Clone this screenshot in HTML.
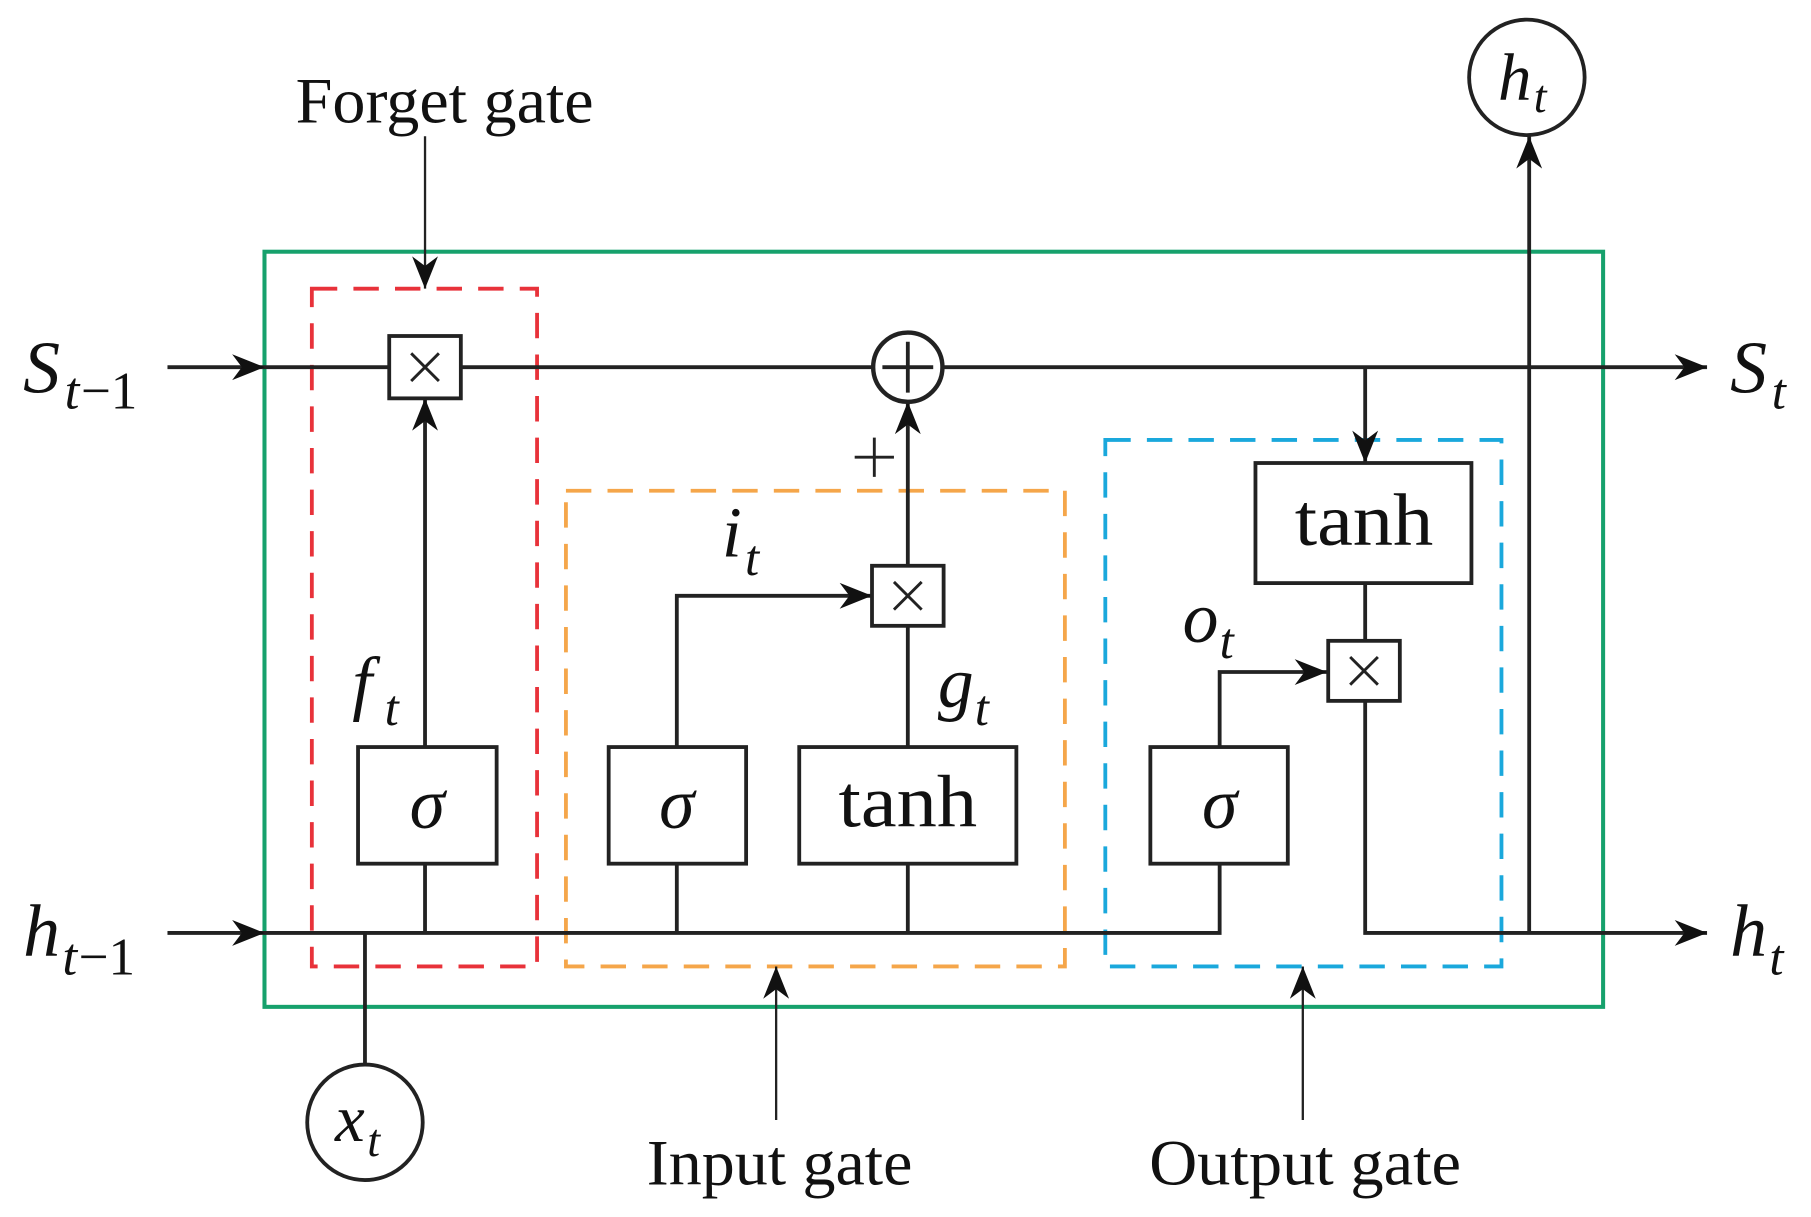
<!DOCTYPE html>
<html><head><meta charset="utf-8"><style>
html,body{margin:0;padding:0;background:#fff;}
svg{display:block;}
text{font-family:"Liberation Serif",serif;fill:#111;}
.v{font-style:italic;}
</style></head><body>
<svg width="1811" height="1217" viewBox="0 0 1568 1054" preserveAspectRatio="none" xmlns="http://www.w3.org/2000/svg">
<defs>
<marker id="b" viewBox="0 0 10 10" refX="10" refY="5" markerWidth="28" markerHeight="28" markerUnits="userSpaceOnUse" orient="auto">
<path d="M0,1 L10,5 L0,9 L3,5 z" fill="#111"/></marker>
</defs>
<g stroke="#222" stroke-width="3.3" fill="none">
<rect x="270" y="250" width="195" height="587" stroke="#e8323a" stroke-dasharray="22,14"/>
<rect x="490" y="425" width="432" height="412" stroke="#f5a64a" stroke-dasharray="22,14"/>
<rect x="957" y="381" width="343" height="456" stroke="#1aa8dc" stroke-dasharray="22,14"/>
<rect x="229" y="218" width="1159" height="654" stroke="#16a16c" stroke-width="3.5"/>
<line x1="145" y1="318" x2="229" y2="318" marker-end="url(#b)"/>
<line x1="229" y1="318" x2="337" y2="318"/>
<line x1="399" y1="318" x2="756" y2="318"/>
<line x1="816" y1="318" x2="1478" y2="318" marker-end="url(#b)"/>
<line x1="145" y1="808" x2="229" y2="808" marker-end="url(#b)"/>
<polyline points="229,808 1056,808 1056,748"/>
<polyline points="1182,607 1182,808 1478,808" marker-end="url(#b)"/>
<line x1="368" y1="808" x2="368" y2="748"/>
<line x1="368" y1="647" x2="368" y2="345" marker-end="url(#b)"/>
<rect x="337" y="291" width="62" height="54"/>
<rect x="310" y="647" width="120" height="101"/>
<line x1="586" y1="808" x2="586" y2="748"/>
<polyline points="586,647 586,516 755,516" marker-end="url(#b)"/>
<rect x="527" y="647" width="119" height="101"/>
<line x1="786" y1="808" x2="786" y2="748"/>
<line x1="786" y1="647" x2="786" y2="542"/>
<rect x="692" y="647" width="188" height="101"/>
<rect x="755" y="490" width="62" height="52"/>
<line x1="786" y1="490" x2="786" y2="348" marker-end="url(#b)"/>
<circle cx="786" cy="318" r="30" stroke-width="3.8"/>
<line x1="786" y1="296" x2="786" y2="340"/>
<line x1="764" y1="318" x2="808" y2="318"/>
<polyline points="1056,647 1056,582 1149,582" marker-end="url(#b)"/>
<rect x="996" y="647" width="119" height="101"/>
<rect x="1150" y="555" width="62" height="52"/>
<line x1="1182" y1="318" x2="1182" y2="401" marker-end="url(#b)"/>
<rect x="1087" y="401" width="187" height="104"/>
<line x1="1182" y1="505" x2="1182" y2="555"/>
<line x1="1324" y1="808" x2="1324" y2="118" marker-end="url(#b)"/>
<circle cx="1322" cy="67" r="50"/>
<line x1="316" y1="808" x2="316" y2="922"/>
<circle cx="316" cy="972" r="50"/>
<line x1="368" y1="118" x2="368" y2="250" stroke-width="2" marker-end="url(#b)"/>
<line x1="672" y1="970" x2="672" y2="837" stroke-width="2" marker-end="url(#b)"/>
<line x1="1128" y1="970" x2="1128" y2="837" stroke-width="2" marker-end="url(#b)"/>
</g>
<g stroke="#222" stroke-width="2.5">
<line x1="356" y1="306" x2="380" y2="330"/><line x1="380" y1="306" x2="356" y2="330"/>
<line x1="774" y1="504" x2="798" y2="528"/><line x1="798" y1="504" x2="774" y2="528"/>
<line x1="1169" y1="569" x2="1193" y2="593"/><line x1="1193" y1="569" x2="1169" y2="593"/>
<line x1="757" y1="379" x2="757" y2="413"/><line x1="740" y1="396" x2="774" y2="396"/>
</g>
<g>
<text x="385" y="106" text-anchor="middle" font-size="56" textLength="258" lengthAdjust="spacingAndGlyphs">Forget gate</text>
<text x="675" y="1026" text-anchor="middle" font-size="56" textLength="230" lengthAdjust="spacingAndGlyphs">Input gate</text>
<text x="1130" y="1026" text-anchor="middle" font-size="56" textLength="270" lengthAdjust="spacingAndGlyphs">Output gate</text>
<text x="370" y="717" text-anchor="middle" class="v" font-size="62">σ</text>
<text x="586" y="717" text-anchor="middle" class="v" font-size="62">σ</text>
<text x="1056" y="717" text-anchor="middle" class="v" font-size="62">σ</text>
<text x="786" y="716" text-anchor="middle" font-size="64" textLength="120" lengthAdjust="spacingAndGlyphs">tanh</text>
<text x="1181" y="472" text-anchor="middle" font-size="64" textLength="120" lengthAdjust="spacingAndGlyphs">tanh</text>
<text x="20" y="340" class="v" font-size="64">S</text><text x="56" y="354" class="v" font-size="46">t</text><text x="70" y="354" font-size="46">−1</text>
<text x="20" y="828" class="v" font-size="64">h</text><text x="54" y="844" class="v" font-size="46">t</text><text x="68" y="844" font-size="46">−1</text>
<text x="1498" y="340" class="v" font-size="64">S</text><text x="1534" y="354" class="v" font-size="44">t</text>
<text x="1498" y="828" class="v" font-size="64">h</text><text x="1532" y="844" class="v" font-size="44">t</text>
<text x="1297" y="86" class="v" font-size="58">h</text><text x="1328" y="97" class="v" font-size="40">t</text>
<text x="290" y="988" class="v" font-size="58">x</text><text x="318" y="1001" class="v" font-size="40">t</text>
<text x="305" y="612" class="v" font-size="62">f</text><text x="333" y="628" class="v" font-size="44">t</text>
<text x="625" y="482" class="v" font-size="62">i</text><text x="645" y="498" class="v" font-size="44">t</text>
<text x="812" y="612" class="v" font-size="62">g</text><text x="844" y="628" class="v" font-size="44">t</text>
<text x="1024" y="556" class="v" font-size="62">o</text><text x="1056" y="570" class="v" font-size="44">t</text>
</g>
</svg>
</body></html>
